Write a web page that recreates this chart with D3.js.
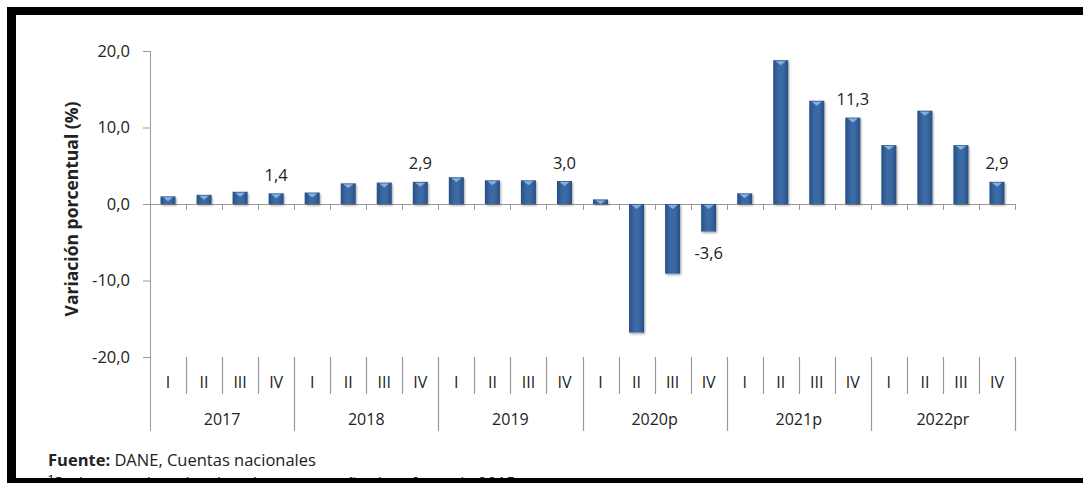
<!DOCTYPE html>
<html>
<head>
<meta charset="utf-8">
<script src="https://cdn.jsdelivr.net/npm/d3@7"></script>
<style>
  html, body { margin: 0; padding: 0; background: #fff; }
  svg { display: block; }
  text { font-family: "Open Sans", "Noto Sans", sans-serif; fill: #222; }
</style>
</head>
<body>
<svg id="chart" width="1083" height="483"></svg>
<script>
// ---- data ----
const years = ["2017", "2018", "2019", "2020p", "2021p", "2022pr"];
const quarters = ["I", "II", "III", "IV"];
const values = [
  1.0, 1.2, 1.6, 1.4,
  1.5, 2.7, 2.8, 2.9,
  3.5, 3.1, 3.1, 3.0,
  0.6, -16.8, -9.1, -3.6,
  1.4, 18.8, 13.5, 11.3,
  7.7, 12.2, 7.7, 2.9
];
const labelledIdx = [3, 7, 11, 15, 19, 23];
const yTicks = [20, 10, 0, -10, -20];
const yTitle = "Variación porcentual (%)";
const sourceBold = "Fuente:";
const sourceText = " DANE, Cuentas nacionales";
const noteText = "¹Series encadenadas de volumen con año de referencia 2015";

const cats = [];
years.forEach(y => quarters.forEach(q => cats.push({year: y, q: q, key: y + "-" + q})));
cats.forEach((c, i) => c.value = values[i]);

const svg = d3.select("#chart");
const fmt = v => d3.format(".1f")(v).replace(".", ",").replace("−", "-");

const x = d3.scaleBand().domain(cats.map(c => c.key)).range([150, 1015]).paddingInner(0).paddingOuter(0);
const y = d3.scaleLinear().domain([-20, 20]).range([357, 51]);
const bw = x.bandwidth();
const barW = 15;

const defs = svg.append("defs");
const grad = defs.append("linearGradient").attr("id", "barGrad").attr("x1", "0").attr("x2", "1").attr("y1", "0").attr("y2", "0");
grad.append("stop").attr("offset", "0%").attr("stop-color", "#284f81");
grad.append("stop").attr("offset", "35%").attr("stop-color", "#3a69a4");
grad.append("stop").attr("offset", "65%").attr("stop-color", "#3a69a4");
grad.append("stop").attr("offset", "100%").attr("stop-color", "#284f81");
const f = defs.append("filter").attr("id", "shadow").attr("x", "-30%").attr("y", "-30%").attr("width", "160%").attr("height", "160%");
f.append("feDropShadow").attr("dx", 1).attr("dy", 1.5).attr("stdDeviation", 1).attr("flood-color", "#000").attr("flood-opacity", 0.35);

const axisColor = "#9a9a9a";

// y axis
const yAxis = svg.append("g").attr("transform", "translate(150,0)")
  .call(d3.axisLeft(y).tickValues(yTicks).tickSize(7).tickFormat(fmt));
yAxis.select(".domain").remove();
yAxis.selectAll(".tick line").attr("stroke", axisColor);
yAxis.selectAll(".tick text").attr("font-size", "16.5px").attr("x", -20).attr("fill", "#333");
svg.append("line").attr("x1", 150.5).attr("x2", 150.5).attr("y1", y(20)).attr("y2", 431).attr("stroke", axisColor);

// y title
svg.append("text")
  .attr("transform", "translate(78,209) rotate(-90)")
  .attr("text-anchor", "middle").attr("font-size", "17.5px").attr("font-weight", "bold")
  .text(yTitle);

// zero line with small ticks
svg.append("line").attr("x1", 150).attr("x2", 1015).attr("y1", y(0) + 0.5).attr("y2", y(0) + 0.5).attr("stroke", axisColor);
const bounds = d3.range(cats.length + 1).map(i => i === cats.length ? x.range()[1] : x(cats[i].key));
svg.append("g").selectAll("line").data(bounds.slice(1)).join("line")
  .attr("x1", d => Math.round(d) + 0.5).attr("x2", d => Math.round(d) + 0.5)
  .attr("y1", y(0)).attr("y2", y(0) + 6).attr("stroke", axisColor);

// bars
const bars = svg.append("g");
bars.selectAll("rect").data(cats).join("rect")
  .attr("x", d => x(d.key) + (bw - barW) / 2)
  .attr("width", barW)
  .attr("y", d => y(Math.max(0, d.value)))
  .attr("height", d => Math.abs(y(d.value) - y(0)))
  .attr("fill", "url(#barGrad)")
  .attr("filter", "url(#shadow)");
// top highlight
bars.selectAll("path.hl").data(cats).join("path").attr("class", "hl")
  .attr("d", d => {
    const cx = x(d.key) + bw / 2;
    const top = y(Math.max(0, d.value));
    const h = Math.min(4, Math.abs(y(d.value) - y(0)) - 1);
    return `M${cx - 5},${top + 1}L${cx + 5},${top + 1}L${cx},${top + 1 + h}Z`;
  })
  .attr("fill", "#8fb6e6").attr("opacity", 0.9);

// data labels
svg.append("g").selectAll("text").data(labelledIdx.map(i => cats[i])).join("text")
  .attr("x", d => x(d.key) + bw / 2)
  .attr("y", d => d.value >= 0 ? y(d.value) - 12.5 : y(d.value) + 27)
  .attr("text-anchor", "middle").attr("font-size", "16.5px").attr("fill", "#222")
  .text(d => fmt(d.value));

// category axis (multi-level)
const catG = svg.append("g");
bounds.forEach((b, i) => {
  const isYear = i % 4 === 0;
  if (i === 0) return;
  catG.append("line").attr("x1", Math.round(b) + 0.5).attr("x2", Math.round(b) + 0.5)
    .attr("y1", 357).attr("y2", isYear ? 431 : 394).attr("stroke", axisColor).attr("stroke-width", 1.2);
});
catG.selectAll("text.q").data(cats).join("text").attr("class", "q")
  .attr("x", d => x(d.key) + bw / 2).attr("y", 388)
  .attr("text-anchor", "middle").attr("font-size", "16px").attr("fill", "#222")
  .text(d => d.q);
catG.selectAll("text.yr").data(years).join("text").attr("class", "yr")
  .attr("x", d => (x(d + "-I") + x(d + "-IV") + bw) / 2).attr("y", 425)
  .attr("text-anchor", "middle").attr("font-size", "16px").attr("fill", "#222")
  .text(d => d);

// source
const src = svg.append("text").attr("x", 48).attr("y", 466).attr("font-size", "16.5px").attr("fill", "#111");
src.append("tspan").attr("font-weight", "bold").text(sourceBold);
src.append("tspan").text(sourceText);
svg.append("text").attr("x", 48).attr("y", 489).attr("font-size", "16.5px").attr("fill", "#111").text(noteText);

// frame bands
svg.append("rect").attr("x", 7).attr("y", 7).attr("width", 1076).attr("height", 8).attr("fill", "#000");
svg.append("rect").attr("x", 7).attr("y", 7).attr("width", 9).attr("height", 476).attr("fill", "#000");
svg.append("rect").attr("x", 7).attr("y", 478).attr("width", 1076).attr("height", 5).attr("fill", "#000");
</script>
</body>
</html>
